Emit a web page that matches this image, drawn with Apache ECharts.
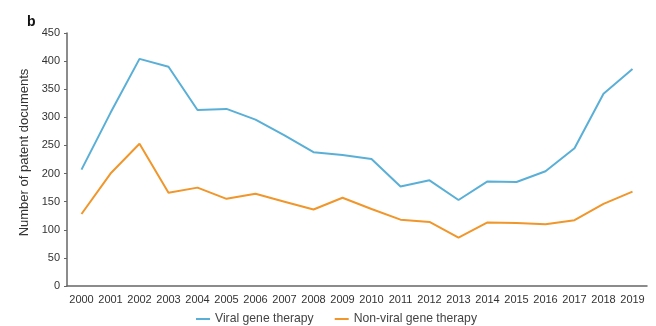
<!DOCTYPE html>
<html><head><meta charset="utf-8">
<script src="https://cdn.jsdelivr.net/npm/echarts@6/dist/echarts.min.js"></script>
<style>html,body{margin:0;padding:0;background:#fff}#c{width:656px;height:326px}</style>
</head><body><div id="c"></div>
<script>
var years = ['2000','2001','2002','2003','2004','2005','2006','2007','2008','2009','2010','2011','2012','2013','2014','2015','2016','2017','2018','2019'];
var viral = [207,308,404,390,313,315,296,268,238,233,226,177,188,153,186,185,204,245,342,386];
var nonViral = [128,200,253,166,175,155,164,150,136,157,137,118,114,86,113,112,110,117,146,168];
var yTicks = [0,50,100,150,200,250,300,350,400,450];
var chart = echarts.init(document.getElementById('c'));
var font = 'Liberation Sans, Arial, sans-serif';
chart.setOption({
  animation:false,
  title:{text:'b',left:22,top:10,textStyle:{fontSize:14,fontWeight:'bold',color:'#111',fontFamily:font}},
  grid:{left:67,right:9,top:33,bottom:40},
  legend:{top:308,left:191,itemWidth:14,itemHeight:2,itemGap:21,icon:'rect',
    textStyle:{fontSize:12.2,color:'#444',fontFamily:font},
    data:['Viral gene therapy','Non-viral gene therapy']},
  xAxis:{type:'category',data:years,boundaryGap:true,
    axisLine:{lineStyle:{color:'#666',width:1.5}},axisTick:{show:false},
    axisLabel:{fontSize:11,color:'#333',margin:8,fontFamily:font,interval:0}},
  yAxis:{type:'value',min:yTicks[0],max:yTicks[yTicks.length-1],interval:50,
    name:'Number of patent documents',nameLocation:'middle',nameGap:33,
    nameTextStyle:{fontSize:13,color:'#333',fontFamily:font,padding:[0,0,0,14]},
    axisLine:{show:true,lineStyle:{color:'#666',width:1.5}},
    axisTick:{show:true,length:3,lineStyle:{color:'#666'}},
    splitLine:{show:false},
    axisLabel:{fontSize:11,color:'#333',margin:7,fontFamily:font}},
  series:[
    {name:'Viral gene therapy',type:'line',data:viral,symbol:'none',lineStyle:{color:'#5aafd7',width:2},itemStyle:{color:'#5aafd7'}},
    {name:'Non-viral gene therapy',type:'line',data:nonViral,symbol:'none',lineStyle:{color:'#f0962b',width:2},itemStyle:{color:'#f0962b'}}
  ]
});
</script></body></html>
